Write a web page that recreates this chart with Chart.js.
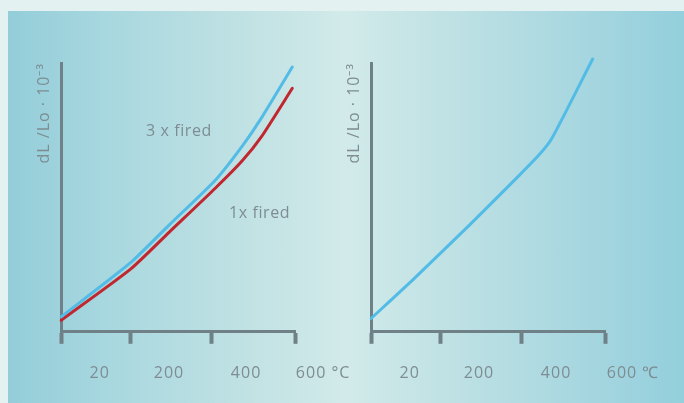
<!DOCTYPE html>
<html>
<head>
<meta charset="utf-8">
<script src="https://cdn.jsdelivr.net/npm/chart.js@4"></script>
<style>
  html, body { margin: 0; padding: 0; }
  body { width: 684px; height: 403px; overflow: hidden; position: relative; background: #e4f1f1; font-family: "Open Sans", sans-serif; }
  #panel {
    position: absolute; left: 8px; top: 11px; right: 0; bottom: 0;
    background: linear-gradient(90deg, #93cdd9 0%, #a7d7df 14%, #c4e3e4 38%, #d2eaea 50%, #c3e3e5 62%, #a8d7e0 84%, #93cfdc 100%);
  }
  canvas { position: absolute; top: 0; }
  .note { position: absolute; color: #7d8d93; font-size: 16px; white-space: nowrap; letter-spacing: 0.6px; }
</style>
</head>
<body>
<div id="panel"></div>
<canvas id="left" width="374" height="403" style="left:0"></canvas>
<canvas id="right" width="374" height="403" style="left:310px"></canvas>
<div class="note" style="left:146px; top:119px;">3 x fired</div>
<div class="note" style="left:229px; top:201px;">1x fired</div>

<script>
// temperatures (°C) and expansion values (dL/Lo · 10^-3)
const temps = [-80, 100, 200, 320, 390, 440, 520];
const fired3x = [0.56, 2.57, 3.97, 5.64, 6.91, 7.96, 9.85];
const fired1x = [0.43, 2.33, 3.70, 5.34, 6.36, 7.26, 9.06];

const tempsRight = [-80, 30, 175, 305, 360, 390, 495];
const rightVals = [0.50, 1.96, 3.97, 5.83, 6.65, 7.22, 10.15];

// axis labels and tick marks
const labelTemps = [20, 200, 400, 600];
const tickLabelsLeft = ['20', '200', '400', '600 °C'];
const tickLabelsRight = ['20', '200', '400', '600 ℃'];
const tickMarks = [-80, 100, 310, 527];
const yTitle = 'dL /Lo · 10⁻³';

const axisGrey = '#6f8086';
const textGrey = '#7d8d93';
const blue = '#52bbe6';
const red = '#c0272f';

// the original lettering is a little tracked out
const spacedText = {
  id: 'spacedText',
  beforeLayout: chart => { chart.ctx.letterSpacing = '1px'; },
  beforeDraw: chart => { chart.ctx.letterSpacing = '1px'; }
};

function points(xs, ys) {
  return xs.map((x, i) => ({ x: x, y: ys[i] }));
}

function dilatometerChart(canvasId, datasets, labels) {
  const ctx = document.getElementById(canvasId);
  return new Chart(ctx, {
    type: 'line',
    data: { datasets: datasets },
    plugins: [spacedText],
    options: {
      responsive: false,
      animation: false,
      layout: { padding: { left: 31, top: 63, right: 79, bottom: 0 } },
      plugins: { legend: { display: false }, tooltip: { enabled: false } },
      elements: {
        point: { radius: 0 },
        line: { borderWidth: 3, tension: 0.2, borderCapStyle: 'round' }
      },
      scales: {
        y: {
          min: 0, max: 10,
          ticks: { display: false },
          grid: { display: false, drawTicks: false },
          border: { color: axisGrey, width: 3 },
          title: {
            display: true, text: yTitle, align: 'end', color: textGrey,
            font: { family: '"Open Sans", sans-serif', size: 16 },
            padding: { top: 4, bottom: 7 }
          }
        },
        xt: {
          type: 'linear', position: 'bottom', min: -80, max: 527, weight: 0,
          afterBuildTicks: axis => { axis.ticks = tickMarks.map(v => ({ value: v })); },
          ticks: { display: false },
          grid: { drawOnChartArea: false, tickLength: 12, tickWidth: 4, tickColor: axisGrey },
          border: { color: axisGrey, width: 3 }
        },
        x: {
          type: 'linear', position: 'bottom', min: -80, max: 527, weight: 1,
          afterBuildTicks: axis => { axis.ticks = labelTemps.map(v => ({ value: v })); },
          ticks: {
            autoSkip: false, maxRotation: 0, padding: 20, color: textGrey,
            font: { family: '"Open Sans", sans-serif', size: 16 },
            callback: (v, i) => labels[i]
          },
          grid: { display: false, drawTicks: false },
          border: { display: false }
        }
      }
    }
  });
}

dilatometerChart('left', [
  { label: '3 x fired', data: points(temps, fired3x), borderColor: blue, clip: false },
  { label: '1x fired', data: points(temps, fired1x), borderColor: red, clip: false }
], tickLabelsLeft);

dilatometerChart('right', [
  { label: 'fired', data: points(tempsRight, rightVals), borderColor: blue, clip: false }
], tickLabelsRight);
</script>
</body>
</html>
